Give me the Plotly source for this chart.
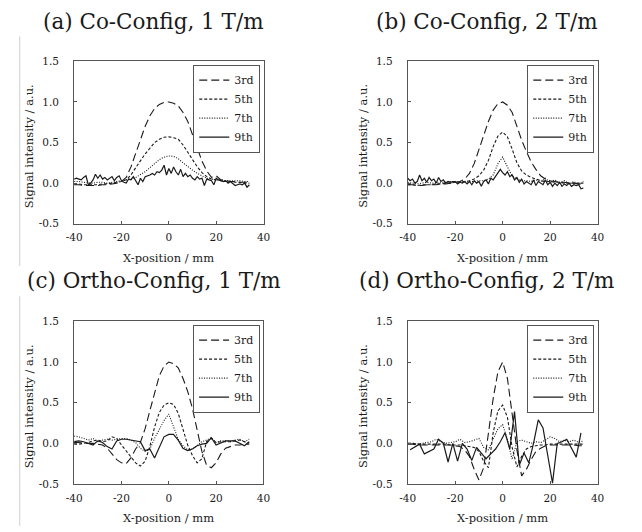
import plotly.graph_objects as go

# ---------------- data ----------------
X2 = list(range(-40, 35, 2))     # 2 mm sampling
X1 = list(range(-40, 35, 1))     # 1 mm sampling
XD9 = list(range(-39, 34, 2))    # panel (d) 9th sampling

HARMONICS = ["3rd", "5th", "7th", "9th"]
TITLES = ["(a) Co-Config, 1 T/m", "(b) Co-Config, 2 T/m",
          "(c) Ortho-Config, 1 T/m", "(d) Ortho-Config, 2 T/m"]
X_TICKS = [-40, -20, 0, 20, 40]
X_TICK_TEXT = ["-40", "-20", "0", "20", "40"]
Y_TICKS = [-0.5, 0.0, 0.5, 1.0, 1.5]
Y_TICK_TEXT = ["-0.5", "0.0", "0.5", "1.0", "1.5"]
X_TITLE = "X-position / mm"
Y_TITLE = "Signal intensity / a.u."

# (a) Co-Config, 1 T/m
a_3rd = [-0.02, -0.02, -0.03, -0.03, -0.03, -0.03, -0.02, -0.02, -0.01, 0.0, 0.02,
         0.07, 0.2, 0.36, 0.54, 0.7, 0.83, 0.92, 0.97, 0.995, 1.0,
         0.985, 0.95, 0.87, 0.76, 0.6, 0.43, 0.27, 0.15, 0.07, 0.09,
         0.04, 0.03, 0.02, 0.02, 0.01, 0.01, 0.01]
a_5th = [-0.01, -0.01, -0.02, -0.02, -0.02, -0.02, -0.01, -0.01, 0.0, 0.01, 0.02,
         0.04, 0.1, 0.19, 0.28, 0.36, 0.43, 0.5, 0.54, 0.565, 0.57,
         0.56, 0.54, 0.47, 0.38, 0.29, 0.2, 0.13, 0.08, 0.05, 0.04,
         0.03, 0.02, 0.02, 0.01, 0.01, 0.0, 0.0]
a_7th = [0.02, 0.02, 0.01, 0.0, 0.0, 0.01, 0.01, 0.0, 0.01, 0.02, 0.03,
         0.04, 0.05, 0.07, 0.1, 0.14, 0.19, 0.24, 0.29, 0.32, 0.335,
         0.33, 0.3, 0.25, 0.2, 0.16, 0.12, 0.09, 0.06, 0.05, 0.04,
         0.04, 0.03, 0.03, 0.03, 0.03, 0.02, 0.02]
a_9th = [0.05, 0.06,
         0.05, 0.04, 0.07, 0.09, -0.02, 0.0, 0.04, 0.11, 0.06, 0.1,
         0.05, 0.07, 0.04, 0.06, 0.08, 0.03, 0.07, 0.09, 0.03, 0.01,
         0.0, 0.05, 0.04, 0.08, 0.03, -0.02, 0.06, 0.02, 0.08, 0.09,
         0.1, 0.12, 0.1, 0.14, 0.13, 0.16, 0.22, 0.1, 0.18, 0.12,
         0.2, 0.14, 0.1, 0.17, 0.08, 0.12, 0.08, 0.1, 0.06, 0.04,
         0.08, 0.05, 0.06, -0.03, 0.05, 0.04, 0.03, -0.02, 0.06, 0.04,
         0.03, 0.02, 0.03, 0.0, 0.02, -0.01, -0.03, -0.02, -0.01, -0.02,
         0.0, -0.05, -0.02]

# (b) Co-Config, 2 T/m
b_3rd = [-0.02, -0.02, -0.03, -0.03, -0.02, -0.02, -0.02, -0.01, -0.01, 0.0, 0.01,
         0.02, 0.05, 0.12, 0.24, 0.41, 0.59, 0.76, 0.9, 0.98, 1.0,
         0.96, 0.87, 0.7, 0.53, 0.39, 0.26, 0.17, 0.09, 0.05, 0.03,
         0.02, 0.01, 0.01, 0.0, 0.0, -0.01, -0.01]
b_5th = [-0.02, -0.02, -0.03, -0.02, -0.02, -0.02, -0.01, -0.01, 0.0, 0.0, 0.01,
         0.01, 0.02, 0.03, 0.05, 0.09, 0.16, 0.28, 0.45, 0.58, 0.63,
         0.57, 0.42, 0.25, 0.15, 0.1, 0.07, 0.05, 0.03, 0.02, 0.02,
         0.01, 0.01, 0.0, 0.0, 0.0, 0.0, 0.0]
b_7th = [0.01, 0.0, -0.01, 0.0, 0.01, 0.0, 0.0, 0.01, 0.01, 0.02, 0.01,
         0.02, 0.01, 0.02, 0.02, 0.03, 0.03, 0.05, 0.1, 0.24, 0.32,
         0.2, 0.09, 0.05, 0.03, 0.03, 0.02, 0.04, 0.02, 0.06, 0.01,
         0.04, 0.0, 0.03, -0.01, 0.02, -0.02, 0.02]
b_9th = [0.06, 0.03,
         0.05, 0.0, 0.02, 0.1, 0.03, 0.06, 0.01, 0.07, 0.03, 0.05,
         0.0, 0.07, 0.02, 0.04, 0.0, 0.02, 0.01, 0.02, 0.02, -0.01,
         0.01, 0.0, 0.02, -0.01, 0.02, -0.02, 0.03, 0.0, 0.02, -0.04,
         0.02, 0.04, -0.01, 0.06, 0.04, 0.08, 0.12, 0.17, 0.13, 0.1,
         0.14, 0.08, 0.1, 0.04, 0.07, 0.01, 0.05, -0.01, 0.02, 0.0,
         -0.02, 0.04, -0.03, 0.02, 0.0, -0.02, 0.04, -0.02, 0.01, -0.04,
         0.0, -0.03, 0.01, -0.04, -0.01, -0.03, 0.0, -0.04, -0.02, -0.03,
         -0.02, -0.07, -0.06]

# (c) Ortho-Config, 1 T/m
c_3rd = [0.01, 0.01, 0.0, 0.0, 0.0, -0.01, -0.02, -0.06, -0.13, -0.2, -0.24,
         -0.25, -0.18, -0.07, 0.01, 0.18, 0.4, 0.62, 0.83, 0.95, 1.0,
         0.98, 0.93, 0.8, 0.64, 0.43, 0.16, -0.1, -0.27, -0.3, -0.24,
         -0.13, -0.06, -0.04, -0.02, -0.02, -0.01, -0.01]
c_5th = [-0.01, -0.01, 0.0, 0.01, 0.03, 0.04, 0.02, 0.03, 0.08, 0.06, -0.02,
         -0.09, -0.17, -0.24, -0.28, -0.22, -0.04, 0.2, 0.38, 0.47, 0.5,
         0.48, 0.37, 0.18, -0.02, -0.15, -0.24, -0.19, 0.02, 0.06, 0.01,
         0.02, 0.02, 0.02, 0.03, 0.04, 0.02, 0.0]
c_7th = [0.09, 0.08, 0.06, 0.04, 0.06, 0.02, 0.04, 0.05, 0.04, 0.05, 0.06,
         0.06, 0.04, 0.01, -0.06, -0.1, -0.07, 0.06, 0.18, 0.28, 0.36,
         0.2, 0.05, -0.03, -0.08, -0.07, -0.02, 0.02, 0.04, 0.07, 0.01,
         0.03, 0.03, 0.02, 0.04, 0.05, 0.02, 0.05]
c_9th = [0.02, 0.03, 0.02, 0.0, -0.02, 0.03, 0.01, -0.04, -0.07, 0.03, 0.05,
         0.05, 0.04, 0.03, 0.02, -0.09, -0.07, -0.18, -0.04, 0.08, 0.11,
         0.11, 0.04, -0.06, -0.09, -0.07, -0.03, -0.01, 0.0, 0.07, -0.02,
         0.01, 0.03, 0.03, 0.03, 0.0, -0.03, 0.02]

# (d) Ortho-Config, 2 T/m
d_3rd = [-0.01, -0.01, -0.02, -0.02, -0.02, -0.02, -0.02, -0.02, -0.02, -0.02, -0.03,
         -0.04, -0.08, -0.16, -0.32, -0.45, -0.3, 0.13, 0.55, 0.88, 1.0,
         0.8, 0.38, -0.08, -0.4, -0.32, -0.2, -0.1, -0.06, -0.03, -0.02,
         -0.02, -0.02, -0.02, -0.02, -0.02, -0.03, -0.03]
d_5th = [0.0, 0.0, -0.01, -0.01, -0.01, -0.01, -0.01, -0.01, -0.01, -0.02, -0.02,
         -0.02, -0.03, -0.04, -0.05, -0.1, -0.22, -0.3, 0.13, 0.4, 0.47,
         0.32, -0.05, -0.29, -0.16, -0.07, -0.04, -0.03, -0.02, -0.02, -0.01,
         -0.01, -0.01, -0.01, -0.01, -0.01, -0.01, -0.01]
d_7th = [0.0, 0.0, -0.01, 0.0, 0.01, 0.02, 0.05, 0.02, 0.0, 0.01, 0.02,
         0.05, 0.01, 0.02, 0.04, 0.06, -0.05, -0.08, 0.05, 0.18, 0.23,
         0.05, -0.2, 0.02, 0.04, 0.02, 0.0, 0.02, 0.01, 0.04, 0.08,
         0.06, 0.02, 0.04, 0.02, 0.04, 0.01, 0.03]
d_9th = [-0.08, -0.05, -0.01, -0.13, -0.1, -0.07, 0.05, 0.0, -0.23, 0.0,
         -0.22, 0.0, -0.07, -0.21, -0.05, -0.12, -0.19, -0.13, -0.07, 0.02,
         0.13, -0.07, 0.39, -0.27, -0.12, -0.24, 0.0, 0.29, 0.19, -0.15,
         -0.49, 0.0, 0.02, 0.05, -0.06, -0.17, 0.13]

# ---------------- layout helpers ----------------
W, H = 642, 532
SERIF = "DejaVu Serif"
INK = "#1a1a1a"
FRAME = "#555555"

def fx(p):
    return p / W

def fy(p):
    return 1 - p / H

# panel boxes in pixels: left, right, top, bottom
BOXES = [(67.7, 261.7, 56.7, 222.7), (409.3, 603.7, 56.7, 222.7),
         (67.7, 261.5, 322.7, 489.0), (409.3, 603.7, 322.7, 489.0)]
TITLE_CX = [149, 490, 149, 490]
TITLE_CY = [16, 16, 281, 281]

DASHES = {"3rd": "8px,4px", "5th": "3px,2px", "7th": "1px,1.5px", "9th": "solid"}

panel_series = [
    [(X2, a_3rd), (X2, a_5th), (X2, a_7th), (X1, a_9th)],
    [(X2, b_3rd), (X2, b_5th), (X2, b_7th), (X1, b_9th)],
    [(X2, c_3rd), (X2, c_5th), (X2, c_7th), (X2, c_9th)],
    [(X2, d_3rd), (X2, d_5th), (X2, d_7th), (XD9, d_9th)],
]

fig = go.Figure()
layout = dict(
    width=W, height=H, margin=dict(l=0, r=0, t=0, b=0),
    paper_bgcolor="white", plot_bgcolor="white",
    font=dict(family=SERIF, size=11, color=INK),
    annotations=[], shapes=[],
)

for i, series in enumerate(panel_series):
    sfx = "" if i == 0 else str(i + 1)
    lg = "legend" if i == 0 else f"legend{i + 1}"
    for name, (xs, ys) in zip(HARMONICS, series):
        assert len(xs) == len(ys), (i, name, len(xs), len(ys))
        fig.add_trace(go.Scatter(
            x=xs, y=ys, mode="lines", name=name,
            line=dict(color=INK, width=1.1 if name != "9th" else 1.2, dash=DASHES[name]),
            xaxis="x" + sfx, yaxis="y" + sfx, legend=lg, legendgroup=f"{i}{name}",
            showlegend=True,
        ))
    l, r, t, b = BOXES[i]
    layout["xaxis" + sfx] = dict(
        domain=[fx(l), fx(r)], range=[-40, 40], anchor="y" + sfx,
        tickvals=X_TICKS, ticktext=X_TICK_TEXT, ticks="inside", ticklen=3,
        tickcolor=FRAME, showline=True, linecolor=FRAME, linewidth=1, mirror=True,
        showgrid=False, zeroline=False, ticklabelstandoff=4,
        tickfont=dict(family=SERIF, size=10.5, color=INK),
    )
    layout["yaxis" + sfx] = dict(
        domain=[fy(b), fy(t)], range=[-0.5, 1.5], anchor="x" + sfx,
        tickvals=Y_TICKS, ticktext=Y_TICK_TEXT, ticks="inside", ticklen=3,
        tickcolor=FRAME, showline=True, linecolor=FRAME, linewidth=1, mirror=True,
        showgrid=False, zeroline=False, ticklabelstandoff=12,
        tickfont=dict(family=SERIF, size=10.5, color=INK),
    )
    layout[lg] = dict(
        x=fx(r - 3.4), xanchor="right", y=fy(t + 3.3), yanchor="top",
        bgcolor="white", bordercolor=FRAME, borderwidth=1,
        font=dict(family=SERIF, size=11, color=INK), tracegroupgap=0,
        itemwidth=30,
    )
    layout["annotations"] += [
        dict(text=TITLES[i], x=fx(TITLE_CX[i]), y=fy(TITLE_CY[i]), xref="paper", yref="paper",
             xanchor="center", yanchor="middle", showarrow=False,
             font=dict(family=SERIF, size=21.5, color=INK)),
        dict(text=X_TITLE, x=fx((l + r) / 2), y=fy(b + 35), xref="paper", yref="paper",
             xanchor="center", yanchor="middle", showarrow=False,
             font=dict(family=SERIF, size=11.5, color=INK)),
        dict(text=Y_TITLE, x=fx(l - 46), y=fy((t + b) / 2 + 3.5), xref="paper", yref="paper",
             xanchor="center", yanchor="middle", showarrow=False, textangle=-90,
             font=dict(family=SERIF, size=11.5, color=INK)),
    ]

# faint page-edge rules at the left of the figure
layout["shapes"] += [
    dict(type="line", xref="paper", yref="paper", x0=fx(12), x1=fx(12), y0=fy(31), y1=fy(266),
         line=dict(color="#d0d0d0", width=1)),
    dict(type="line", xref="paper", yref="paper", x0=fx(12), x1=fx(12), y0=fy(297), y1=fy(532),
         line=dict(color="#d0d0d0", width=1)),
]

fig.update_layout(**layout)
fig.write_html("out.html", config={"displayModeBar": False},
               post_script="document.body.style.margin='0';document.body.style.overflow='hidden';")
